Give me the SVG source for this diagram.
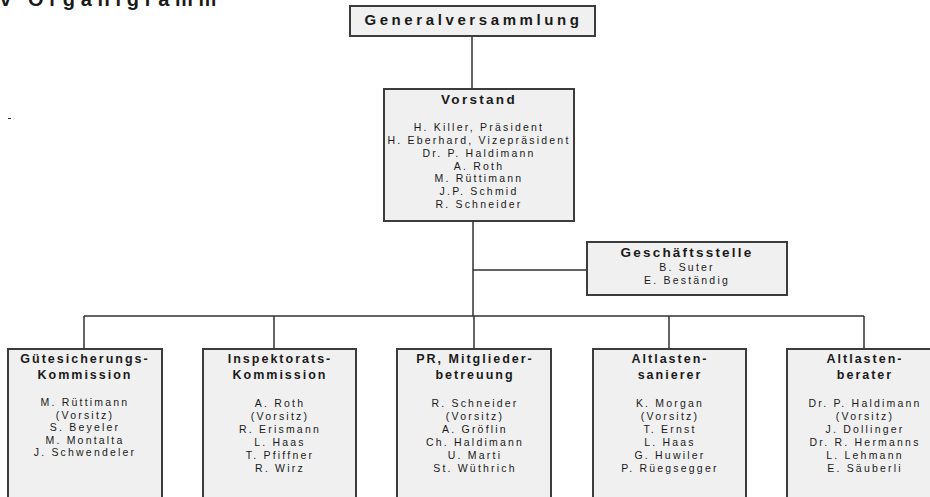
<svg xmlns="http://www.w3.org/2000/svg" width="930" height="497" viewBox="0 0 930 497">
<style>
.box{fill:#f0f0f0;stroke:#3c3c3c;stroke-width:2}
.con{stroke:#303030;stroke-width:1.5;fill:none}
text{font-family:"Liberation Sans",Arial,sans-serif;fill:#1a1a1a;text-anchor:middle}
.t{font-weight:bold;font-size:12.5px;letter-spacing:2px}
.m{font-size:10.5px;letter-spacing:2.2px}
</style>
<rect width="930" height="497" fill="#ffffff"/>
<text x="0" y="6" style="text-anchor:start;font-weight:bold;font-size:20px;letter-spacing:5.7px">v Organigramm</text>
<line x1="8" y1="118.5" x2="11" y2="118.5" stroke="#333" stroke-width="1"/>
<g id="connectors">
<line class="con" x1="472" y1="36" x2="472" y2="89"/>
<line class="con" x1="473" y1="221" x2="473" y2="316"/>
<line class="con" x1="473" y1="270" x2="587" y2="270"/>
<line class="con" x1="84" y1="316" x2="864" y2="316"/>
<line class="con" x1="84" y1="316" x2="84" y2="349"/>
<line class="con" x1="274" y1="316" x2="274" y2="349"/>
<line class="con" x1="474" y1="316" x2="474" y2="349"/>
<line class="con" x1="669" y1="316" x2="669" y2="349"/>
<line class="con" x1="864" y1="316" x2="864" y2="349"/>
</g>
<g id="generalversammlung">
<rect class="box" x="350" y="6" width="245" height="30"/>
<text x="473.5" y="24.5" style="font-weight:bold;font-size:15px;letter-spacing:3.6px">Generalversammlung</text>
</g>
<g id="vorstand">
<rect class="box" x="384" y="89" width="190" height="132"/>
<text x="479" y="104" style="font-weight:bold;font-size:13.5px;letter-spacing:2.3px">Vorstand</text>
<text class="m" x="479" y="131">H. Killer, Präsident</text>
<text class="m" x="479" y="144">H. Eberhard, Vizepräsident</text>
<text class="m" x="479" y="156.8">Dr. P. Haldimann</text>
<text class="m" x="479" y="169.6">A. Roth</text>
<text class="m" x="479" y="182.4">M. Rüttimann</text>
<text class="m" x="479" y="195.2">J.P. Schmid</text>
<text class="m" x="479" y="208">R. Schneider</text>
</g>
<g id="geschaeftsstelle">
<rect class="box" x="587" y="242" width="200" height="53"/>
<text x="687" y="257" style="font-weight:bold;font-size:13.5px;letter-spacing:2.2px">Geschäftsstelle</text>
<text class="m" x="687" y="270.5">B. Suter</text>
<text class="m" x="687" y="283.5">E. Beständig</text>
</g>
<g id="guetesicherung">
<rect class="box" x="8" y="349" width="154" height="165"/>
<text class="t" x="85" y="363">Gütesicherungs-</text>
<text class="t" x="85" y="378.5">Kommission</text>
<text class="m" x="85" y="406">M. Rüttimann</text>
<text class="m" x="85" y="418.6">(Vorsitz)</text>
<text class="m" x="85" y="431.2">S. Beyeler</text>
<text class="m" x="85" y="443.8">M. Montalta</text>
<text class="m" x="85" y="456.4">J. Schwendeler</text>
</g>
<g id="inspektorat">
<rect class="box" x="203" y="349" width="153" height="165"/>
<text class="t" x="280" y="363">Inspektorats-</text>
<text class="t" x="280" y="378.5">Kommission</text>
<text class="m" x="280" y="406.5">A. Roth</text>
<text class="m" x="280" y="419.5">(Vorsitz)</text>
<text class="m" x="280" y="432.5">R. Erismann</text>
<text class="m" x="280" y="445.5">L. Haas</text>
<text class="m" x="280" y="458.5">T. Pfiffner</text>
<text class="m" x="280" y="471.5">R. Wirz</text>
</g>
<g id="pr">
<rect class="box" x="397" y="349" width="154" height="165"/>
<text class="t" x="475" y="363">PR, Mitglieder-</text>
<text class="t" x="475" y="378.5">betreuung</text>
<text class="m" x="475" y="406.5">R. Schneider</text>
<text class="m" x="475" y="419.5">(Vorsitz)</text>
<text class="m" x="475" y="432.5">A. Gröflin</text>
<text class="m" x="475" y="445.5">Ch. Haldimann</text>
<text class="m" x="475" y="458.5">U. Marti</text>
<text class="m" x="475" y="471.5">St. Wüthrich</text>
</g>
<g id="altlastensanierer">
<rect class="box" x="593" y="349" width="153" height="165"/>
<text class="t" x="670" y="363">Altlasten-</text>
<text class="t" x="670" y="378.5">sanierer</text>
<text class="m" x="670" y="406.5">K. Morgan</text>
<text class="m" x="670" y="419.5">(Vorsitz)</text>
<text class="m" x="670" y="432.5">T. Ernst</text>
<text class="m" x="670" y="445.5">L. Haas</text>
<text class="m" x="670" y="458.5">G. Huwiler</text>
<text class="m" x="670" y="471.5">P. Rüegsegger</text>
</g>
<g id="altlastenberater">
<rect class="box" x="787" y="349" width="154" height="165"/>
<text class="t" x="865" y="363">Altlasten-</text>
<text class="t" x="865" y="378.5">berater</text>
<text class="m" x="865" y="406.5">Dr. P. Haldimann</text>
<text class="m" x="865" y="419.5">(Vorsitz)</text>
<text class="m" x="865" y="432.5">J. Dollinger</text>
<text class="m" x="865" y="445.5">Dr. R. Hermanns</text>
<text class="m" x="865" y="458.5">L. Lehmann</text>
<text class="m" x="865" y="471.5">E. Säuberli</text>
</g>
</svg>
